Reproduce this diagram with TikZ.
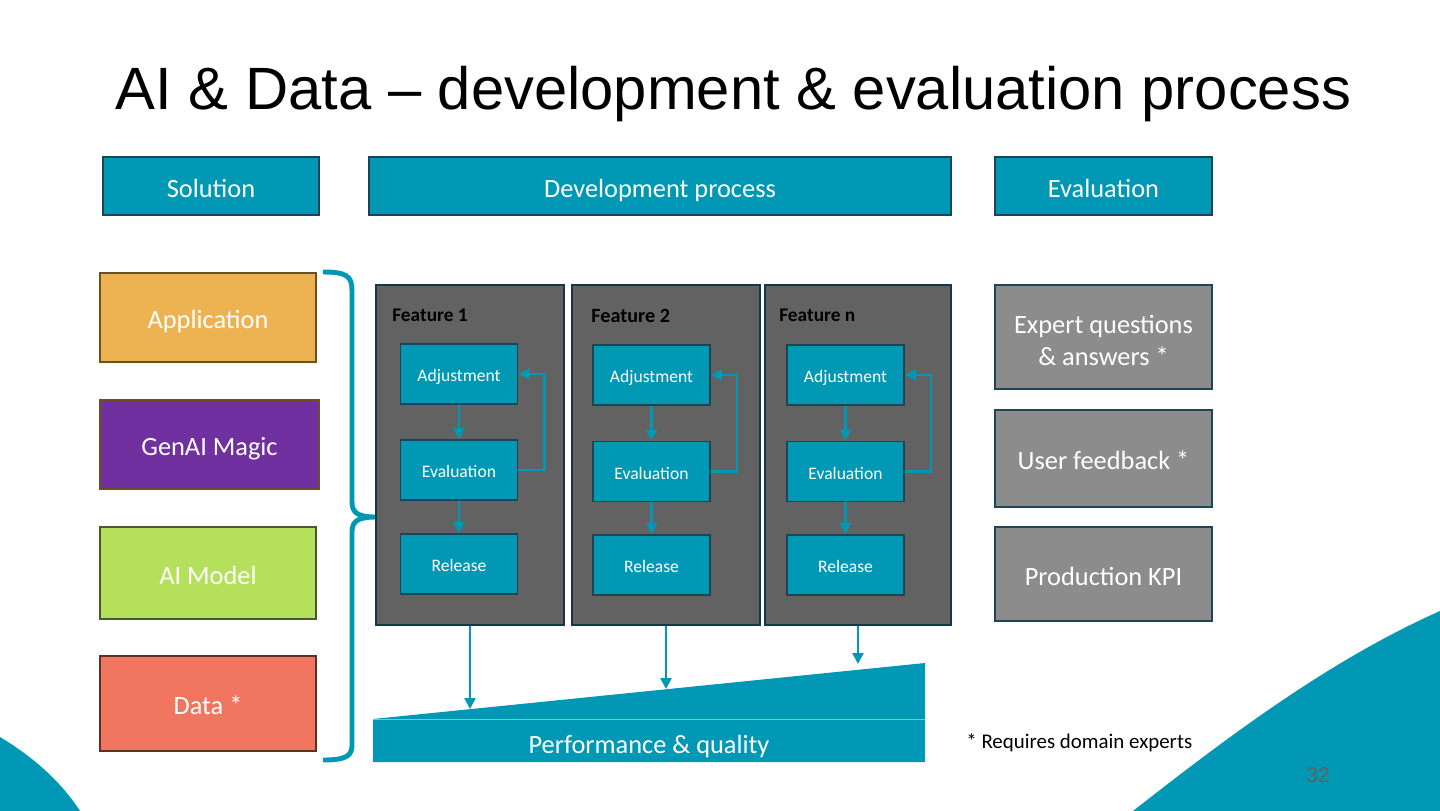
\documentclass[tikz,border=0pt]{standalone}
\usepackage{fontspec}
\setmainfont{Carlito}
\newfontfamily\titlefont{Liberation Sans}
\usepackage{xcolor}
\usepackage{tikz}
\usetikzlibrary{arrows.meta,positioning}

\definecolor{teal}{RGB}{0,152,180}
\definecolor{tealdark}{RGB}{28,70,86}
\definecolor{featgray}{RGB}{98,98,98}
\definecolor{evalgray}{RGB}{140,140,140}
\definecolor{appfill}{RGB}{237,178,82}
\definecolor{genfill}{RGB}{112,48,160}
\definecolor{modfill}{RGB}{181,224,92}
\definecolor{datfill}{RGB}{240,118,96}

\begin{document}
\begin{tikzpicture}[
  x=0.02cm, y=-0.02cm,
  every node/.style={font=\fontsize{15}{18}\selectfont},
  oneline/.style={text height=13pt, text depth=0.3pt},
  box/.style={rectangle, draw, line width=1pt, text=white, align=center,
    inner sep=0pt},
  header/.style={box, oneline, fill=teal, draw=tealdark, minimum height=1.16cm},
  solution/.style={box, oneline, minimum width=4.32cm},
  feature/.style={rectangle, draw=tealdark!80!black, line width=1pt,
    fill=featgray, minimum width=3.76cm, minimum height=6.8cm},
  featlabel/.style={anchor=west, inner sep=0pt,
    font=\fontsize{11}{13}\selectfont\bfseries},
  stepbox/.style={box, fill=teal, draw=tealdark, minimum width=2.34cm,
    minimum height=1.2cm, font=\fontsize{10}{12}\selectfont,
    text height=9.2pt, text depth=0.2pt},
  evalbox/.style={box, fill=evalgray, draw=tealdark, minimum width=4.34cm},
  flow/.style={-{Triangle[length=0.22cm,width=0.22cm]}, line width=1.3pt,
    draw=teal},
  brace/.style={draw=teal, line width=2.8pt},
]
\useasboundingbox (0,0) rectangle (1440,811);

% Corner decorations
\fill[teal] (0,737) .. controls (35,758) and (62,783) .. (80,811) -- (0,811) -- cycle;
\fill[teal] (1133,811) .. controls (1230,735) and (1330,660) .. (1440,611) -- (1440,811) -- cycle;

% Title
\node[anchor=base, font=\titlefont\fontsize{34}{40}\selectfont] (title) at (733.5,110)
  {AI \& Data – development \& evaluation process};

% Row 0: Headers
\node[header, minimum width=4.32cm] at (211,186) (hsol) {Solution};
\node[header, minimum width=11.64cm] at (660,186) (hdev) {Development process};
\node[header, minimum width=4.34cm] at (1103.5,186) (heval) {Evaluation};

% Solution stack
\node[solution, fill=appfill, draw=appfill!45!black, minimum height=1.78cm] at (208,317.5) (app) {Application};
\node[solution, fill=genfill, draw=appfill!45!black, minimum width=4.38cm, minimum height=1.78cm] at (209.5,444.5) (gen) {GenAI Magic};
\node[solution, fill=modfill, draw=modfill!40!black, minimum height=1.84cm] at (208,573) (mod) {AI Model};
\node[solution, fill=datfill, draw=datfill!40!black, minimum height=1.9cm] at (208,703.5) (dat) {Data *};

% Brace
\draw[brace] (323,272) .. controls (346,272) and (352,276) .. (352,290) -- (352,502)
  .. controls (352,513) and (358,517) .. (376,517)
  .. controls (358,517) and (352,521) .. (352,532) -- (352,745)
  .. controls (352,756) and (346,760) .. (323,760);

% Feature columns
\node[feature] at (470,455) (f1) {};
\node[feature] at (666,455) (f2) {};
\node[feature, minimum width=3.72cm] at (858,455) (fn) {};

\node[featlabel] at (392,315) (lab1) {Feature 1};
\node[featlabel, font=\fontsize{11.5}{13}\selectfont\bfseries] at (591,316) (lab2) {Feature 2};
\node[featlabel] at (779,315) (labn) {Feature n};

% Feature 1 steps
\node[stepbox] at (459,374) (adj1) {Adjustment};
\node[stepbox] at (459,470) (ev1) {Evaluation};
\node[stepbox] at (459,564) (rel1) {Release};

% Feature 2 steps
\node[stepbox] at (651.5,375) (adj2) {Adjustment};
\node[stepbox] at (651.5,471.5) (ev2) {Evaluation};
\node[stepbox] at (651.5,565) (rel2) {Release};

% Feature n steps
\node[stepbox] at (845.5,375) (adjn) {Adjustment};
\node[stepbox] at (845.5,471.5) (evn) {Evaluation};
\node[stepbox] at (845.5,565) (reln) {Release};

% Step arrows
\draw[flow] (adj1) -- (ev1);
\draw[flow] (ev1) -- (rel1);
\draw[flow] (ev1.east) -- ++(26,0) |- (adj1.east);
\draw[flow] (adj2) -- (ev2);
\draw[flow] (ev2) -- (rel2);
\draw[flow] (ev2.east) -- ++(26,0) |- (adj2.east);
\draw[flow] (adjn) -- (evn);
\draw[flow] (evn) -- (reln);
\draw[flow] (evn.east) -- ++(26,0) |- (adjn.east);

% Performance wedge
\fill[teal] (373,719) -- (925,663) -- (925,762) -- (373,762) -- cycle;
\draw[teal!55!white, line width=0.4pt] (373,719) -- (925,719);
\node[text=white, oneline] at (649,742) (perf) {Performance \& quality};
\coordinate (p1) at (470,709);
\coordinate (p2) at (666,689);
\coordinate (pn) at (858,664);
\draw[flow] (f1.south) -- (p1);
\draw[flow] (f2.south) -- (p2);
\draw[flow] (fn.south) -- (pn);

% Evaluation column
\node[evalbox, minimum height=2.08cm, text height=32pt] at (1103.5,337) (exp) {Expert questions\\\& answers *};
\node[evalbox, oneline, minimum height=1.94cm] at (1103.5,458.5) (usr) {User feedback *};
\node[evalbox, oneline, minimum height=1.88cm] at (1103.5,574) (kpi) {Production KPI};

% Footnote and page number
\node[anchor=west, inner sep=0pt, font=\fontsize{11.9}{14}\selectfont] at (966,743) (note) {* Requires domain experts};
\node[text=black!62, font=\titlefont\fontsize{12}{14}\selectfont] at (1318,775) (page) {32};

\end{tikzpicture}
\end{document}
